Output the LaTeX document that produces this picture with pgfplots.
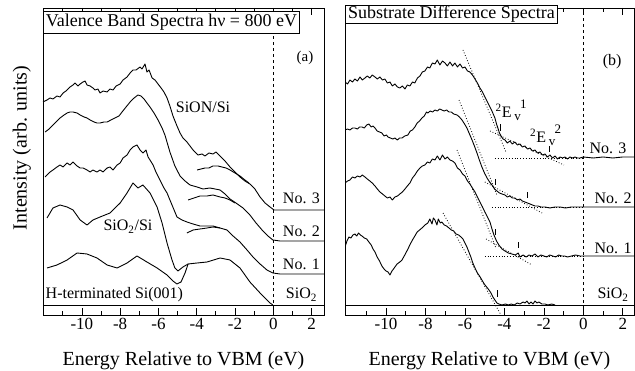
\documentclass[border=0pt]{standalone}
\usepackage{pgfplots}
\pgfplotsset{compat=1.18}
\usepackage{fontspec}
\setmainfont{Liberation Serif}
\newcommand{\Ev}[1]{\textsuperscript{2}E\,{\fontsize{13}{13}\selectfont\raisebox{-0.45ex}{v}\hspace{-0.05em}\raisebox{1.5ex}{#1}}}
\tikzset{lab/.style={font=\fontsize{16}{16}\selectfont, inner sep=0pt},
  spec/.style={black, line width=0.9pt, line join=round},
  tang/.style={black, dotted, line width=0.8pt},
  evm/.style={black, line width=0.7pt}}
\begin{document}
\begin{tikzpicture}
\useasboundingbox (0,0) rectangle (635pt,371pt);
\pgfplotsset{
 panel/.style={
  scale only axis, height=307pt, ymin=0, ymax=307, ytick=\empty,
  xtick={-10,-8,-6,-4,-2,0,2}, xticklabels={-10,-8,-6,-4,-2,0,2},
  minor xtick={-11,-9,-7,-5,-3,-1,1},
  tick align=inside, xtick pos=both,
  major tick length=7pt, minor tick length=4pt,
  tick style={black, line width=0.7pt},
  ticklabel style={font=\fontsize{17}{17}\selectfont},
  xlabel={Energy Relative to VBM (eV)},
  xlabel style={font=\fontsize{20}{20}\selectfont, at={(axis description cs:0.5,0)}, anchor=base, yshift=-51pt},
  axis line style={line width=0.9pt},
 },
}
% ---------------- panel (a) ----------------
\begin{axis}[panel, at={(43pt,56pt)}, anchor=south west, width=281pt,
  xmin=-12.03, xmax=2.65,
  ylabel={Intensity (arb. units)},
  ylabel style={font=\fontsize{20}{20}\selectfont, at={(axis description cs:-0.075,0.544)}, anchor=center}]
% No.3 SiON/Si
\addplot[spec] coordinates {(-12.03,213) (-11.82,215) (-11.66,217) (-11.51,216) (-11.30,219) (-11.14,218) (-10.98,222) (-10.83,224) (-10.62,228) (-10.46,230) (-10.36,232) (-10.20,229) (-10.09,231) (-9.94,233) (-9.83,234) (-9.73,230) (-9.57,229) (-9.42,227) (-9.31,225) (-9.16,226) (-9.05,222) (-8.89,224) (-8.68,223) (-8.53,226) (-8.37,225) (-8.21,229) (-8.00,231) (-7.85,235) (-7.64,238) (-7.48,242) (-7.33,245) (-7.17,245) (-6.96,248) (-6.86,246) (-6.70,251) (-6.60,243) (-6.49,245) (-6.33,237) (-6.18,235) (-6.02,231) (-5.86,227) (-5.71,223) (-5.55,217) (-5.40,209) (-5.24,199) (-5.03,189) (-4.87,182) (-4.72,177) (-4.51,173) (-4.35,169) (-4.19,165) (-4.04,162) (-3.93,160) (-3.72,161) (-3.57,159) (-3.36,162) (-3.15,161) (-2.99,163) (-2.78,159) (-2.52,154) (-2.26,148) (-2.00,143) (-1.74,138) (-1.48,134) (-1.22,131) (-0.96,126) (-0.69,118) (-0.43,112) (-0.17,108) (0.04,105) (0.35,105) (2.65,105)};
\addplot[spec] coordinates {(-3.98,145) (-3.77,146) (-3.57,147) (-3.36,147) (-3.15,149) (-2.89,149) (-2.68,148) (-2.47,147) (-2.26,145) (-2.00,142) (-1.74,139) (-1.48,135) (-1.27,132)};
% No.2
\addplot[spec] coordinates {(-11.92,183) (-11.71,186) (-11.51,190) (-11.30,194) (-11.14,197) (-10.93,200) (-10.77,202) (-10.62,203) (-10.46,203) (-10.25,202) (-10.09,200) (-9.88,198) (-9.73,197) (-9.57,195) (-9.36,193) (-9.21,192) (-9.05,192) (-8.84,193) (-8.68,193) (-8.48,195) (-8.27,197) (-8.06,199) (-7.90,203) (-7.69,208) (-7.48,213) (-7.27,217) (-7.07,220) (-6.91,219) (-6.75,216) (-6.60,212) (-6.44,208) (-6.23,202) (-6.02,195) (-5.81,187) (-5.66,180) (-5.40,163) (-5.14,149) (-4.87,139) (-4.61,134) (-4.35,130) (-3.98,128) (-3.67,126) (-3.31,127) (-3.04,126) (-2.78,125) (-2.52,121) (-2.26,116) (-1.95,112) (-1.58,107) (-1.22,100) (-0.90,92) (-0.54,84) (-0.28,79) (-0.02,75) (0.35,74) (2.65,74)};
\addplot[spec] coordinates {(-4.45,115) (-4.14,117) (-3.83,119) (-3.46,119) (-3.15,120) (-2.78,118) (-2.52,117) (-2.26,115) (-2.00,112)};
% No.1
\addplot[spec] coordinates {(-11.92,138) (-11.66,143) (-11.51,145) (-11.30,148) (-11.14,150) (-10.98,148) (-10.77,152) (-10.62,150) (-10.46,153) (-10.25,149) (-10.09,147) (-9.94,147) (-9.73,145) (-9.57,143) (-9.42,145) (-9.21,143) (-9.05,145) (-8.89,143) (-8.68,147) (-8.53,148) (-8.37,145) (-8.16,150) (-8.00,152) (-7.85,157) (-7.64,160) (-7.48,165) (-7.33,168) (-7.12,170) (-6.96,165) (-6.81,162) (-6.65,165) (-6.54,158) (-6.44,155) (-6.28,150) (-6.13,143) (-5.92,135) (-5.71,127) (-5.55,122) (-5.29,110) (-5.03,98) (-4.77,95) (-4.51,93) (-4.19,91) (-3.83,89) (-3.46,89) (-3.15,89) (-2.78,87) (-2.42,85) (-2.10,79) (-1.74,73) (-1.37,65) (-1.06,58) (-0.69,51) (-0.33,45) (-0.02,42) (0.35,41) (2.65,41)};
\addplot[spec] coordinates {(-4.51,82) (-4.19,85) (-3.83,86) (-3.46,87) (-3.15,88) (-2.78,87)};
% SiO2/Si
\addplot[spec] coordinates {(-11.82,97) (-11.51,107) (-11.14,110) (-10.77,108) (-10.46,105) (-10.09,95) (-9.73,90) (-9.42,95) (-9.05,98) (-8.53,102) (-8.00,112) (-7.64,122) (-7.33,132) (-7.07,127) (-6.81,130) (-6.44,122) (-6.07,108) (-5.81,92) (-5.55,72) (-5.29,55) (-5.14,47) (-4.98,44) (-4.72,48) (-4.45,51)};
% H-terminated Si(001)
\addplot[spec] coordinates {(-11.82,47) (-11.30,50) (-10.77,55) (-10.25,62) (-9.73,61) (-9.21,57) (-8.68,50) (-8.16,47) (-7.64,52) (-7.12,59) (-6.60,53) (-6.07,47) (-5.55,40) (-5.24,34) (-5.03,31) (-4.82,33) (-4.61,42) (-4.45,51) (-3.98,52) (-3.46,53) (-2.78,57) (-2.26,55) (-1.74,47) (-1.22,33) (-0.69,22) (-0.17,12) (-0.02,10)};
% baseline
\addplot[spec] coordinates {(-12.03,10) (2.65,10)};
\addplot[black, dashed, line width=0.7pt] coordinates {(0,0) (0,280)};
\node[lab] at (axis cs:-3.67,208) {SiON/Si};
\node[lab] at (axis cs:-7.59,88) {SiO\textsubscript{2}/Si};
\node[lab] at (axis cs:-8.30,20) {H-terminated Si(001)};
\node[lab] at (axis cs:1.47,117) {No. 3};
\node[lab] at (axis cs:1.47,84) {No. 2};
\node[lab] at (axis cs:1.47,51) {No. 1};
\node[lab] at (axis cs:1.47,20) {SiO\textsubscript{2}};
\node[lab, font=\fontsize{15}{15}\selectfont] at (axis cs:1.66,257) {(a)};
\end{axis}
% ---------------- panel (b) ----------------
\begin{axis}[panel, at={(345pt,56pt)}, anchor=south west, width=289pt,
  xmin=-12.08, xmax=2.57]
% No.3
\addplot[spec] coordinates {(-12.08,233) (-11.95,231) (-11.83,235) (-11.70,233) (-11.58,236) (-11.45,234) (-11.32,238) (-11.20,235) (-11.07,237) (-10.95,239) (-10.82,237) (-10.70,240) (-10.56,238) (-10.44,236) (-10.31,238) (-10.18,235) (-10.06,236) (-9.93,232) (-9.80,233) (-9.68,229) (-9.55,231) (-9.42,228) (-9.30,227) (-9.17,229) (-9.04,226) (-8.92,230) (-8.79,229) (-8.66,233) (-8.54,232) (-8.41,237) (-8.28,239) (-8.16,243) (-8.03,244) (-7.90,248) (-7.78,247) (-7.65,252) (-7.52,251) (-7.40,255) (-7.27,250) (-7.14,254) (-7.01,252) (-6.89,249) (-6.76,253) (-6.63,249) (-6.51,252) (-6.38,248) (-6.25,251) (-6.12,247) (-6.00,248) (-5.87,244) (-5.75,243) (-5.62,240) (-5.49,236) (-5.37,232) (-5.24,227) (-5.11,223) (-4.99,218) (-4.86,213) (-4.73,208) (-4.61,203) (-4.48,197) (-4.40,191) (-4.33,187) (-4.25,182) (-4.17,179) (-4.07,176) (-3.97,175) (-3.85,172) (-3.72,174) (-3.60,171) (-3.47,173) (-3.34,170) (-3.21,171) (-3.09,168) (-2.96,169) (-2.83,166) (-2.70,167) (-2.58,164) (-2.45,165) (-2.32,162) (-2.20,163) (-2.07,160) (-1.94,161) (-1.82,158) (-1.69,160) (-1.56,157) (-1.43,159) (-1.31,156) (-1.18,158) (-1.05,157) (-0.93,158) (-0.80,156) (-0.68,158) (-0.55,157) (-0.42,158) (-0.30,157) (-0.17,157) (0.0,158) (0.5,157) (1.0,158) (1.5,157) (2.0,158) (2.57,158)};
% No.2
\addplot[spec] coordinates {(-12.08,185) (-11.95,186) (-11.83,185) (-11.70,187) (-11.58,187) (-11.45,186) (-11.34,188) (-11.22,188) (-11.10,187) (-10.98,190) (-10.87,191) (-10.75,188) (-10.66,189) (-10.56,187) (-10.45,184) (-10.33,183) (-10.21,182) (-10.10,179) (-9.98,180) (-9.90,178) (-9.78,177) (-9.66,176) (-9.55,177) (-9.43,175) (-9.31,177) (-9.19,177) (-9.05,179) (-8.89,180) (-8.77,184) (-8.66,185) (-8.54,188) (-8.42,192) (-8.30,194) (-8.18,197) (-8.06,199) (-7.95,203) (-7.88,202) (-7.76,204) (-7.64,203) (-7.52,205) (-7.40,204) (-7.28,206) (-7.17,205) (-7.05,204) (-6.93,205) (-6.81,203) (-6.69,203) (-6.57,201) (-6.40,200) (-6.28,198) (-6.15,195) (-6.02,191) (-5.90,187) (-5.77,181) (-5.64,175) (-5.52,169) (-5.39,162) (-5.27,155) (-5.14,148) (-5.01,142) (-4.88,137) (-4.75,133) (-4.63,130) (-4.50,126) (-4.38,124) (-4.25,122) (-4.12,121) (-3.97,120) (-3.85,118) (-3.72,119) (-3.60,117) (-3.47,117) (-3.34,115) (-3.21,116) (-3.09,114) (-2.96,113) (-2.83,112) (-2.70,111) (-2.58,110) (-2.45,109) (-2.30,109) (-2.15,108) (-1.94,108) (-1.70,107) (-1.43,108) (-1.18,108) (-0.90,107) (-0.60,108) (-0.30,108) (0.0,108) (0.5,108) (1.0,108) (1.5,108) (2.0,108) (2.57,108)};
% No.1
\addplot[spec] coordinates {(-12.08,132) (-11.95,134) (-11.83,135) (-11.70,138) (-11.58,137) (-11.45,139) (-11.32,138) (-11.20,140) (-11.07,138) (-10.95,136) (-10.82,134) (-10.70,132) (-10.56,129) (-10.44,126) (-10.31,123) (-10.18,121) (-10.06,119) (-9.93,117) (-9.80,118) (-9.68,115) (-9.55,118) (-9.42,119) (-9.30,121) (-9.17,123) (-9.04,126) (-8.92,129) (-8.79,132) (-8.66,137) (-8.54,140) (-8.41,144) (-8.28,147) (-8.16,149) (-8.03,150) (-7.90,153) (-7.78,152) (-7.65,156) (-7.52,155) (-7.40,159) (-7.27,155) (-7.14,160) (-7.01,156) (-6.89,158) (-6.76,155) (-6.63,154) (-6.51,152) (-6.38,147) (-6.25,145) (-6.12,141) (-6.00,139) (-5.87,134) (-5.75,131) (-5.62,127) (-5.49,123) (-5.37,118) (-5.24,113) (-5.11,108) (-4.99,103) (-4.86,98) (-4.73,93) (-4.63,86) (-4.53,80) (-4.40,74) (-4.28,70) (-4.12,66) (-3.97,64) (-3.80,62) (-3.62,61) (-3.45,60) (-3.30,62) (-3.21,58) (-3.05,60) (-2.90,58) (-2.75,60) (-2.60,59) (-2.45,61) (-2.30,58) (-2.15,60) (-2.00,59) (-1.85,58) (-1.70,60) (-1.55,59) (-1.40,58) (-1.25,60) (-1.10,59) (-0.95,59) (-0.80,58) (-0.60,59) (-0.40,60) (-0.17,59) (0.0,59) (0.5,59) (1.0,59) (1.5,59) (2.0,59) (2.57,59)};
% SiO2
\addplot[spec] coordinates {(-12.08,68) (-11.98,74) (-11.88,78) (-11.78,77) (-11.68,80) (-11.58,81) (-11.48,79) (-11.40,82) (-11.30,80) (-11.22,79) (-11.10,77) (-10.98,76) (-10.87,73) (-10.75,70) (-10.66,66) (-10.56,63) (-10.45,58) (-10.33,54) (-10.21,49) (-10.10,46) (-10.00,44) (-9.90,43) (-9.80,40) (-9.70,44) (-9.62,46) (-9.55,48) (-9.44,51) (-9.30,53) (-9.19,55) (-9.05,60) (-8.89,66) (-8.77,71) (-8.66,75) (-8.54,79) (-8.42,83) (-8.30,85) (-8.18,87) (-8.03,90) (-7.88,92) (-7.78,96) (-7.67,91) (-7.60,97) (-7.52,95) (-7.42,90) (-7.35,96) (-7.25,92) (-7.17,93) (-7.05,90) (-6.93,89) (-6.81,87) (-6.69,85) (-6.57,84) (-6.45,81) (-6.32,80) (-6.20,78) (-6.10,76) (-6.00,72) (-5.90,68) (-5.80,63) (-5.70,58) (-5.60,52) (-5.49,47) (-5.37,42) (-5.26,39) (-5.14,35) (-5.02,31) (-4.90,28) (-4.78,25) (-4.68,22) (-4.58,18) (-4.48,15) (-4.38,12) (-4.28,11) (-4.12,10) (-3.95,11) (-3.80,10) (-3.65,11) (-3.50,10) (-3.35,12) (-3.21,11) (-3.05,13) (-2.95,12) (-2.86,14) (-2.75,11) (-2.65,13) (-2.55,11) (-2.45,14) (-2.35,12) (-2.25,13) (-2.10,11) (-1.94,11) (-1.80,10) (-1.60,11) (-1.43,10)};
\addplot[spec] coordinates {(-12.08,10) (2.57,10)};
% tangents and guide lines
\addplot[tang] coordinates {(-6.10,265) (-3.92,163)};
\addplot[tang] coordinates {(-4.73,184) (-0.98,150)};
\addplot[tang] coordinates {(-4.48,157) (0,157)};
\addplot[tang] coordinates {(-6.30,215) (-4.38,120)};
\addplot[tang] coordinates {(-4.99,133) (-2.09,102)};
\addplot[tang] coordinates {(-4.63,108) (0,108)};
\addplot[tang] coordinates {(-6.40,165) (-4.43,67)};
\addplot[tang] coordinates {(-4.93,76) (-2.60,50)};
\addplot[tang] coordinates {(-4.99,59) (0,59)};
\addplot[tang] coordinates {(-7.11,102) (-4.17,0)};
% E_v markers
\addplot[evm] coordinates {(-4.22,184) (-4.22,191)};
\addplot[evm] coordinates {(-1.74,163) (-1.74,169)};
\addplot[evm] coordinates {(-4.48,130) (-4.48,136)};
\addplot[evm] coordinates {(-2.86,117) (-2.86,123)};
\addplot[evm] coordinates {(-4.48,80) (-4.48,86)};
\addplot[evm] coordinates {(-3.29,67) (-3.29,73)};
\addplot[evm] coordinates {(-4.38,18) (-4.38,25)};
\addplot[black, dashed, line width=0.7pt] coordinates {(0,0) (0,307)};
\node[lab, anchor=west] at (axis cs:-4.45,205) {\Ev{1}};
\node[lab, anchor=west] at (axis cs:-2.70,180) {\Ev{2}};
\node[lab] at (axis cs:1.25,167) {No. 3};
\node[lab] at (axis cs:1.51,117) {No. 2};
\node[lab] at (axis cs:1.51,67) {No. 1};
\node[lab] at (axis cs:1.51,20) {SiO\textsubscript{2}};
\node[lab] at (axis cs:1.46,253) {(b)};
\end{axis}
% title boxes
\node[draw, fill=white, line width=0.9pt, anchor=north west, minimum width=256pt, minimum height=22pt, inner sep=0pt, font=\fontsize{18}{18}\selectfont] at (43pt,360pt) {Valence Band Spectra hν = 800 eV};
\node[draw, fill=white, line width=0.9pt, anchor=north west, minimum width=212pt, minimum height=18pt, inner sep=0pt, font=\fontsize{18}{18}\selectfont] at (345pt,366pt) {Substrate Difference Spectra};
\end{tikzpicture}
\end{document}
